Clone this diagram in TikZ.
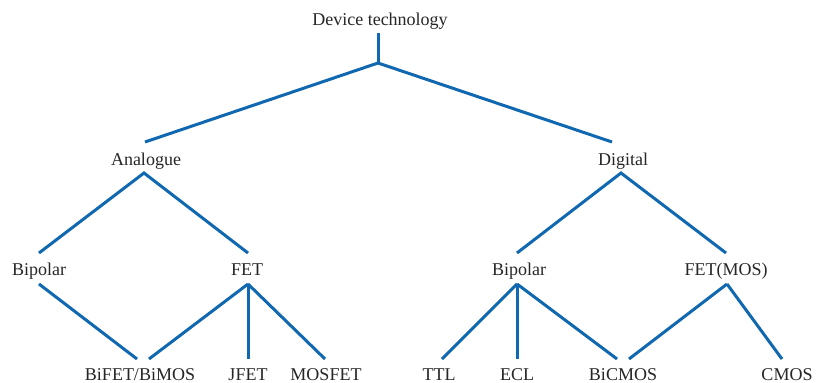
\documentclass[tikz,border=0pt]{standalone}
\usepackage{fontspec}
\setmainfont{Liberation Serif}
\definecolor{treeblue}{RGB}{16,104,176}
\begin{document}
\begin{tikzpicture}[x=1pt,y=-1pt,
  lbl/.style={anchor=base,inner sep=0pt,font=\fontsize{18}{21}\selectfont,text=black!85},
  branch/.style={draw=treeblue,line width=3pt}]
\useasboundingbox (0,0) rectangle (817,383);
% labels
\node[lbl] (dev) at (380,25) {Device technology};
\node[lbl] (ana) at (146,165) {Analogue};
\node[lbl] (dig) at (623,165) {Digital};
\node[lbl] (bipA) at (39,275) {Bipolar};
\node[lbl] (fetA) at (247,275) {FET};
\node[lbl] (bipD) at (519,275) {Bipolar};
\node[lbl] (fetD) at (726,275) {FET(MOS)};
\node[lbl] (bifet) at (140,380) {BiFET/BiMOS};
\node[lbl] (jfet) at (248,380) {JFET};
\node[lbl] (mosfet) at (326,380) {MOSFET};
\node[lbl] (ttl) at (439,380) {TTL};
\node[lbl] (ecl) at (517,380) {ECL};
\node[lbl] (bicmos) at (623,380) {BiCMOS};
\node[lbl] (cmos) at (787,380) {CMOS};
% connection points
\coordinate (devB) at (378,33);
\coordinate (devJ) at (378,63);
\coordinate (anaT) at (145,142);
\coordinate (digT) at (612,142);
\coordinate (anaB) at (144,173);
\coordinate (digB) at (621,173);
\coordinate (bipAT) at (39,253);
\coordinate (fetAT) at (248,253);
\coordinate (bipDT) at (517,253);
\coordinate (fetDT) at (726,253);
\coordinate (bipAB) at (39,284);
\coordinate (fetAB) at (248,284);
\coordinate (bipDB) at (517,284);
\coordinate (fetDB) at (727,284);
\coordinate (bifetL) at (137,359);
\coordinate (bifetR) at (149,359);
\coordinate (jfetT) at (248,359);
\coordinate (mosfetT) at (325,359);
\coordinate (ttlT) at (442,359);
\coordinate (eclT) at (517,359);
\coordinate (bicmosL) at (617,359);
\coordinate (bicmosR) at (629,359);
\coordinate (cmosT) at (782,359);
% branches
\draw[branch] (devB) -- (devJ);
\draw[branch] (anaT) -- (devJ) -- (digT);
\draw[branch] (bipAT) -- (anaB) -- (fetAT);
\draw[branch] (bipDT) -- (digB) -- (fetDT);
\draw[branch] (bipAB) -- (bifetL);
\draw[branch] (fetAB) -- (bifetR);
\draw[branch] (fetAB) -- (jfetT);
\draw[branch] (fetAB) -- (mosfetT);
\draw[branch] (bipDB) -- (ttlT);
\draw[branch] (bipDB) -- (eclT);
\draw[branch] (bipDB) -- (bicmosL);
\draw[branch] (fetDB) -- (bicmosR);
\draw[branch] (fetDB) -- (cmosT);
\end{tikzpicture}
\end{document}
